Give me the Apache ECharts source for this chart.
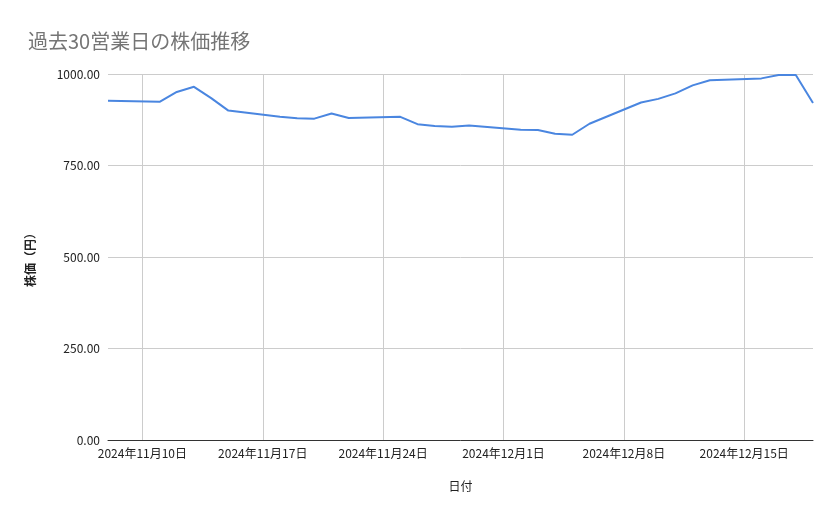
<!DOCTYPE html>
<html lang="ja">
<head>
  <meta charset="UTF-8">
  <title>過去30営業日の株価推移</title>
  <script src="https://cdn.jsdelivr.net/npm/echarts@6/dist/echarts.min.js"></script>
  <style>
    html, body { margin: 0; padding: 0; background: #fff; }
    #chart { width: 839px; height: 519px; }
  </style>
</head>
<body>
  <div id="chart"></div>
  <script>
    // 営業日と終値（グラフから読み取った概算値）
    var dates = [
      '2024-11-08', '2024-11-11', '2024-11-12', '2024-11-13', '2024-11-14', '2024-11-15',
      '2024-11-18', '2024-11-19', '2024-11-20', '2024-11-21', '2024-11-22',
      '2024-11-25', '2024-11-26', '2024-11-27', '2024-11-28', '2024-11-29',
      '2024-12-02', '2024-12-03', '2024-12-04', '2024-12-05', '2024-12-06',
      '2024-12-09', '2024-12-10', '2024-12-11', '2024-12-12', '2024-12-13',
      '2024-12-16', '2024-12-17', '2024-12-18', '2024-12-19'
    ];
    var prices = [
      927, 924, 951, 965, 934, 900,
      883, 879, 878, 892, 880,
      883, 863, 858, 856, 859,
      848, 847, 837, 834, 864,
      922, 932, 947, 969, 983,
      988, 997, 997, 921
    ];
    // 目盛り（日曜日）
    var tickDates = ['2024-11-10', '2024-11-17', '2024-11-24', '2024-12-01', '2024-12-08', '2024-12-15'];

    function toTime(s) {
      var p = s.split('-');
      return new Date(+p[0], +p[1] - 1, +p[2]).getTime();
    }

    var seriesData = dates.map(function (d, i) { return [toTime(d), prices[i]]; });
    var tickValues = tickDates.map(toTime);

    var chart = echarts.init(document.getElementById('chart'));
    var font = '"Noto Sans CJK JP", "Noto Sans", sans-serif';

    var option = {
      backgroundColor: '#fff',
      title: {
        text: '過去30営業日の株価推移',
        left: 23,
        top: 26,
        textStyle: { fontFamily: font, fontSize: 20, fontWeight: 'normal', color: '#757575' }
      },
      grid: { left: 108, right: 26, top: 74, bottom: 79 },
      xAxis: {
        type: 'value',
        min: toTime(dates[0]),
        max: toTime(dates[dates.length - 1]),
        name: '日付',
        nameLocation: 'middle',
        nameGap: 40,
        nameTextStyle: { fontFamily: font, fontSize: 12, color: '#222' },
        axisLine: { show: true, lineStyle: { color: '#333', width: 1 } },
        axisTick: { show: false, customValues: tickValues },
        axisLabel: {
          customValues: tickValues,
          margin: 7,
          fontFamily: font,
          fontSize: 12,
          color: '#222',
          formatter: function (v) {
            var d = new Date(v);
            return d.getFullYear() + '年' + (d.getMonth() + 1) + '月' + d.getDate() + '日';
          }
        },
        splitLine: { show: true, lineStyle: { color: '#ccc', width: 1 } }
      },
      yAxis: {
        type: 'value',
        min: 0,
        max: 1000,
        interval: 250,
        name: '株価（円）',
        nameLocation: 'middle',
        nameGap: 72,
        nameTextStyle: { fontFamily: font, fontSize: 12, fontWeight: 'bold', color: '#222' },
        axisLine: { show: false },
        axisTick: { show: false },
        axisLabel: {
          margin: 8,
          fontFamily: font,
          fontSize: 12,
          color: '#222',
          formatter: function (v) { return v.toFixed(2); }
        },
        splitLine: { lineStyle: { color: '#ccc', width: 1 } }
      },
      series: [{
        type: 'line',
        data: seriesData,
        showSymbol: false,
        symbol: 'none',
        lineStyle: { color: '#4a86e0', width: 2 },
        itemStyle: { color: '#4a86e0' },
        animation: false
      }]
    };

    chart.setOption(option);
    window.addEventListener('resize', function () { chart.resize(); });
  </script>
</body>
</html>
